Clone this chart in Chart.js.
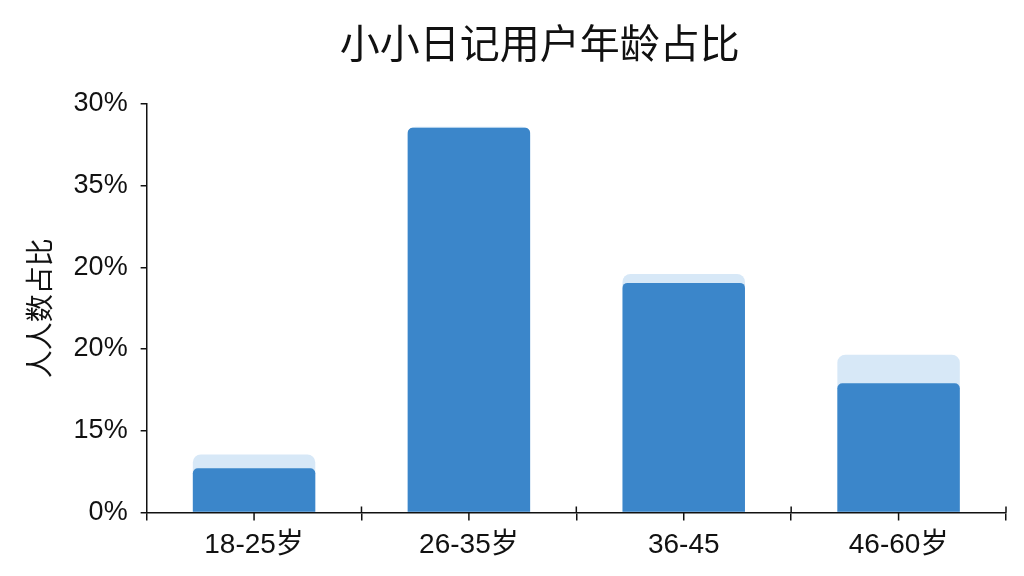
<!DOCTYPE html>
<html>
<head>
<meta charset="utf-8">
<script src="https://cdn.jsdelivr.net/npm/chart.js@4"></script>
<style>
  html, body { margin: 0; padding: 0; background: #fff; }
  #wrap { width: 1024px; height: 576px; }
</style>
</head>
<body>
<div id="wrap"><canvas id="chart" width="1024" height="576"></canvas></div>
<script>
// data (y values in axis units, 0..50)
const chartTitle = '小小日记用户年龄占比';
const yTitle = '人人数占比';
const categories = ['18-25岁', '26-35岁', '36-45', '46-60岁'];
const tickLabels = ['0%', '15%', '20%', '20%', '35%', '30%'];
const userShare = [5.4, 47.1, 28.1, 15.8];
const capShare = [7.1, 47.2, 29.2, 19.3];

const latinFont = '"Liberation Sans", "Noto Sans CJK SC", sans-serif';

// title drawn a bit right of the canvas centre, as in the reference
const titlePlugin = {
	id: 'titleText',
	afterDraw(chart) {
		const ctx = chart.ctx;
		ctx.save();
		ctx.fillStyle = '#111';
		ctx.font = '40px "Noto Sans CJK SC", sans-serif';
		ctx.textAlign = 'center';
		ctx.textBaseline = 'middle';
		ctx.fillText(chartTitle, chart.width * 0.527, 43);
		ctx.restore();
	}
};

// small tick marks under each category centre, and above each boundary
const axisTicks = {
	id: 'axisTicks',
	afterDraw(chart) {
		const x = chart.scales.x;
		const ctx = chart.ctx;
		const y0 = x.top;
		ctx.save();
		ctx.strokeStyle = '#111';
		ctx.lineWidth = 1.5;
		ctx.beginPath();
		for (let i = 0; i < categories.length; i++) {
			const px = x.getPixelForValue(i);
			ctx.moveTo(px, y0);
			ctx.lineTo(px, y0 + 8);
			const edge = i < categories.length - 1
				? (px + x.getPixelForValue(i + 1)) / 2
				: x.right;
			ctx.moveTo(edge, y0 - 6);
			ctx.lineTo(edge, y0);
		}
		ctx.stroke();
		ctx.restore();
	}
};

let config = {
	type: 'bar',
	data: {
		labels: categories,
		datasets: [
			{
				label: 'share',
				data: userShare,
				backgroundColor: '#3b86ca',
				borderRadius: 5,
				grouped: false
			},
			{
				label: 'cap',
				data: capShare,
				backgroundColor: '#d7e8f7',
				borderRadius: 8,
				grouped: false
			}
		]
	},
	options: {
		responsive: false,
		animation: false,
		devicePixelRatio: 1,
		categoryPercentage: 0.57,
		barPercentage: 1.0,
		layout: {
			padding: { top: 104, left: 7, right: 18, bottom: 6 }
		},
		plugins: {
			legend: { display: false },
			tooltip: { enabled: false }
		},
		scales: {
			x: {
				grid: {
					display: true,
					drawOnChartArea: false,
					offset: true,
					tickLength: 8,
					color: '#111',
					lineWidth: 1.5
				},
				border: { color: '#111', width: 1.5 },
				ticks: {
					color: '#111',
					padding: 8,
					font: { family: latinFont, size: 28 }
				}
			},
			y: {
				min: 0,
				max: 50,
				grid: {
					display: true,
					drawOnChartArea: false,
					tickLength: 6,
					color: '#111',
					lineWidth: 1.5
				},
				border: { color: '#111', width: 1.5 },
				ticks: {
					stepSize: 10,
					color: '#111',
					padding: 13,
					font: { family: latinFont, size: 27 },
					callback: (value, index) => tickLabels[index]
				},
				title: {
					display: true,
					text: yTitle,
					color: '#111',
					padding: { top: 16, bottom: 4 },
					font: { family: '"Noto Sans CJK SC", sans-serif', size: 28 }
				}
			}
		}
	},
	plugins: [titlePlugin, axisTicks]
};

window.addEventListener('load', () => {
	const ctx = document.getElementById('chart').getContext('2d');
	const myChart = new Chart(ctx, config);
});
</script>
</body>
</html>
